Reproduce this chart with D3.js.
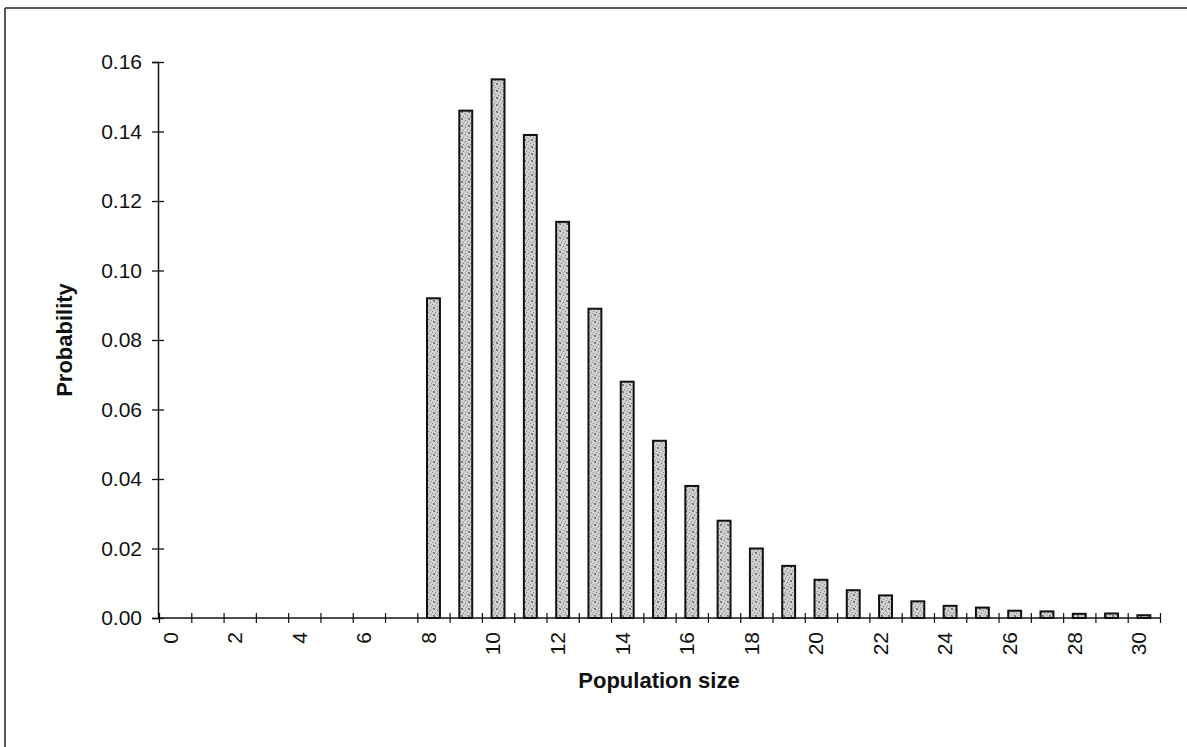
<!DOCTYPE html>
<html>
<head>
<meta charset="utf-8">
<script src="https://cdn.jsdelivr.net/npm/d3@7"></script>
<style>
  body { margin: 0; background: #fff; }
  svg { display: block; }
</style>
</head>
<body>
<script>
// population sizes 0..30 and their probabilities
var sizes = d3.range(0, 31);
var probs = [0, 0, 0, 0, 0, 0, 0, 0,
             0.092, 0.146, 0.155, 0.139, 0.114, 0.089, 0.068, 0.051,
             0.038, 0.028, 0.020, 0.015, 0.011, 0.008, 0.0065, 0.0048,
             0.0035, 0.003, 0.0021, 0.0019, 0.0012, 0.0013, 0.0008];
var yTicks = [0, 0.02, 0.04, 0.06, 0.08, 0.10, 0.12, 0.14, 0.16];
var xLabels = d3.range(0, 31, 2);

var data = sizes.map(function(s, i) { return { size: s, p: probs[i] }; });

var outerWidth = 1187;
var outerHeight = 747;
var axisLeft = 158;
var axisRight = 1160;
var yBottom = 618;
var yTop = 62;
var fontFamily = "Liberation Sans, Arial, sans-serif";

var x = d3.scaleBand()
          .domain(sizes)
          .range([axisLeft + 1, axisRight])
          .paddingInner(0.6)
          .paddingOuter(0.3);

// band edges, used for the tick marks between categories
var xEdge = d3.scaleLinear()
              .domain([0, sizes.length])
              .range([axisLeft + 1, axisRight]);

var y = d3.scaleLinear()
          .domain([0, 0.16])
          .range([yBottom, yTop]);

var svg = d3.select("body").append("svg")
            .attr("width", outerWidth)
            .attr("height", outerHeight);

// scanned frame: top and left edges only
svg.append("line")
   .attr("x1", 5).attr("y1", 8).attr("x2", outerWidth).attr("y2", 8)
   .attr("stroke", "#222").attr("stroke-width", 1.5);
svg.append("line")
   .attr("x1", 5).attr("y1", 8).attr("x2", 5).attr("y2", outerHeight)
   .attr("stroke", "#222").attr("stroke-width", 1.5);

// stipple pattern for the bars (fixed irregular dots)
var dots = [[0,0,"#666"],[3,1,"#777"],[5,3,"#888"],[1,4,"#777"],[4,5,"#999"],
            [2,2,"#aaa"],[6,0,"#999"],[0,6,"#888"],[6,6,"#666"],[3,6,"#aaa"]];
var defs = svg.append("defs");
var pat = defs.append("pattern")
              .attr("id", "stipple")
              .attr("width", 7).attr("height", 7)
              .attr("patternUnits", "userSpaceOnUse");
pat.append("rect").attr("width", 7).attr("height", 7).attr("fill", "#d0d0d0");
pat.selectAll("rect.dot")
   .data(dots)
   .enter()
   .append("rect")
   .attr("class", "dot")
   .attr("x", function(d) { return d[0]; })
   .attr("y", function(d) { return d[1]; })
   .attr("width", 1).attr("height", 1)
   .attr("fill", function(d) { return d[2]; });

// bars
svg.append("g")
   .selectAll("rect")
   .data(data.filter(function(d) { return d.p > 0; }))
   .enter()
   .append("rect")
   .attr("x", function(d) { return x(d.size); })
   .attr("y", function(d) { return y(d.p); })
   .attr("width", x.bandwidth())
   .attr("height", function(d) { return yBottom - y(d.p); })
   .attr("fill", "url(#stipple)")
   .attr("stroke", "#111")
   .attr("stroke-width", 2);

// y axis
var yAxis = svg.append("g")
               .attr("transform", "translate(" + axisLeft + ",0)")
               .call(d3.axisLeft(y)
                       .tickValues(yTicks)
                       .tickSize(6)
                       .tickPadding(10)
                       .tickFormat(d3.format(".2f")));
yAxis.select(".domain").attr("stroke", "#111").attr("stroke-width", 1.5);
yAxis.selectAll(".tick line").attr("x2", 6).attr("x1", -6).attr("stroke", "#111").attr("stroke-width", 1.3);
yAxis.selectAll(".tick text")
     .attr("font-family", fontFamily)
     .attr("font-size", 21)
     .attr("fill", "#111");

// x axis line and tick marks at category edges
var xTickAxis = svg.append("g")
                   .attr("transform", "translate(0," + yBottom + ")")
                   .call(d3.axisBottom(xEdge)
                           .tickValues(d3.range(0, sizes.length + 1))
                           .tickSize(5)
                           .tickFormat(""));
xTickAxis.select(".domain").attr("stroke", "#111").attr("stroke-width", 1.5)
         .attr("d", "M" + axisLeft + ",0H" + axisRight);
xTickAxis.selectAll(".tick line").attr("y1", -5).attr("y2", 5).attr("stroke", "#111").attr("stroke-width", 1.2);

// x labels at category centres, every second size
var xLabelAxis = svg.append("g")
                    .attr("transform", "translate(0," + yBottom + ")")
                    .call(d3.axisBottom(x)
                            .tickValues(xLabels)
                            .tickSize(0)
                            .tickFormat(d3.format("d")));
xLabelAxis.select(".domain").remove();
xLabelAxis.selectAll(".tick text")
          .attr("font-family", fontFamily)
          .attr("font-size", 21)
          .attr("fill", "#111")
          .attr("text-anchor", "end")
          .attr("transform", "translate(-5,14) rotate(-90)")
          .attr("x", 0)
          .attr("y", 0)
          .attr("dy", "0.35em");

// axis titles
svg.append("text")
   .attr("x", 659)
   .attr("y", 688)
   .attr("text-anchor", "middle")
   .attr("font-family", fontFamily)
   .attr("font-size", 22)
   .attr("font-weight", "bold")
   .attr("fill", "#111")
   .text("Population size");

svg.append("text")
   .attr("transform", "translate(72,340) rotate(-90)")
   .attr("text-anchor", "middle")
   .attr("font-family", fontFamily)
   .attr("font-size", 22)
   .attr("font-weight", "bold")
   .attr("fill", "#111")
   .text("Probability");
</script>
</body>
</html>
